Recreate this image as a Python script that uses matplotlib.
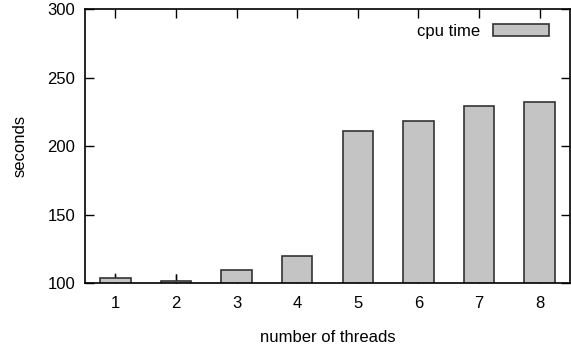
import matplotlib
matplotlib.use("Agg")
import matplotlib.pyplot as plt

plt.rcParams['font.family'] = ['Liberation Sans', 'DejaVu Sans']

threads = [1, 2, 3, 4, 5, 6, 7, 8]
cpu_time = [103.6, 101.9, 110, 120, 211, 218.5, 229, 232.4]
cpu_err = [3.7, 4.9, 0, 0, 0, 0, 0, 0]

fig = plt.figure(figsize=(5.71, 3.46), dpi=100)
ax = fig.add_axes([0.149, 0.181, 0.849, 0.793])

ax.errorbar(threads, cpu_time, yerr=cpu_err, fmt='none', ecolor='#333333',
            elinewidth=1, capsize=0, zorder=1)
ax.bar(threads, cpu_time, width=0.5, color='#c4c4c4', edgecolor='#333333',
       linewidth=1.2, label='cpu time', zorder=2)

ax.set_xlim(0.5, 8.5)
ax.set_ylim(100, 300)
ax.set_xticks(threads)
ax.set_yticks([100, 150, 200, 250, 300])
ax.tick_params(direction='in', length=6.5, width=1, top=True, right=True,
               labelsize=12, pad=7)
ax.tick_params(axis='x', pad=9)
for s in ax.spines.values():
    s.set_linewidth(1.2)

ax.set_xlabel('number of threads', fontsize=12, labelpad=14)
ax.set_ylabel('seconds', fontsize=12, labelpad=14)

ax.legend(loc='upper right', bbox_to_anchor=(0.957, 0.945), frameon=False,
          markerfirst=False, handlelength=3.36, handleheight=0.72,
          borderaxespad=0, borderpad=0, handletextpad=0.8, fontsize=12)

fig.savefig('out.png', dpi=100)
